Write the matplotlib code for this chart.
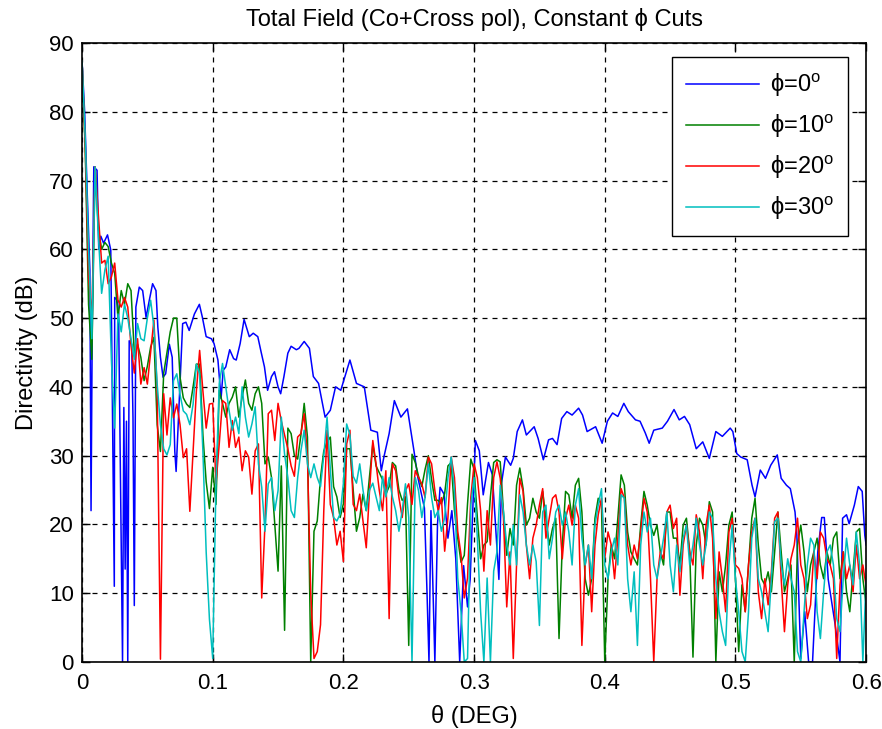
import numpy as np
import matplotlib.pyplot as plt

plt.rcParams['font.family'] = ['Liberation Sans', 'DejaVu Sans']
plt.rcParams['mathtext.fontset'] = 'custom'
plt.rcParams['mathtext.rm'] = 'Liberation Sans'

# phi = 0 deg cut (irregular theta sampling)
theta_b = [0.000, 0.002, 0.004, 0.006, 0.0069, 0.0078, 0.009, 0.0115, 0.0128, 0.0144,
           0.0165, 0.0195, 0.022, 0.0247, 0.025, 0.027, 0.028, 0.031, 0.032, 0.033,
           0.034, 0.035, 0.0361, 0.038, 0.039, 0.040, 0.0412, 0.0438, 0.0464, 0.049,
           0.0515, 0.054, 0.0566, 0.058, 0.060, 0.062, 0.064, 0.0668, 0.069, 0.071,
           0.072, 0.0745, 0.077, 0.0795, 0.082, 0.086, 0.0898, 0.092, 0.095, 0.099,
           0.101, 0.104, 0.1064, 0.108, 0.110, 0.113, 0.116, 0.118, 0.121, 0.124,
           0.128, 0.131, 0.1345, 0.137, 0.1396, 0.142, 0.145, 0.1473, 0.150, 0.152,
           0.1545, 0.1575, 0.160, 0.164, 0.166, 0.170, 0.174, 0.177, 0.181, 0.186,
           0.190, 0.194, 0.198, 0.205, 0.210, 0.216, 0.221, 0.226, 0.229, 0.231,
           0.235, 0.239, 0.244, 0.249, 0.254, 0.257, 0.262, 0.264, 0.2655, 0.267,
           0.270, 0.272, 0.274, 0.277, 0.280, 0.283, 0.286, 0.289, 0.292, 0.295,
           0.297, 0.301, 0.304, 0.307, 0.311, 0.314, 0.319, 0.321, 0.324, 0.328,
           0.330, 0.333, 0.337, 0.340, 0.346, 0.349, 0.353, 0.357, 0.360, 0.3635,
           0.367, 0.371, 0.375, 0.380, 0.383, 0.3865, 0.393, 0.398, 0.402, 0.406,
           0.410, 0.4146, 0.418, 0.4235, 0.427, 0.431, 0.434, 0.4375, 0.444, 0.448,
           0.453, 0.457, 0.461, 0.465, 0.470, 0.475, 0.480, 0.485, 0.490, 0.496,
           0.498, 0.501, 0.504, 0.509, 0.5127, 0.515, 0.519, 0.523, 0.527, 0.532,
           0.535, 0.539, 0.542, 0.5456, 0.547, 0.550, 0.553, 0.556, 0.559, 0.563,
           0.566, 0.568, 0.571, 0.576, 0.580, 0.582, 0.585, 0.587, 0.591, 0.594,
           0.597, 0.599, 0.600]
d_phi0 = [87.4, 80, 68, 57, 22, 48, 72, 71.5, 60, 61.9,
          60.9, 62.1, 59.9, 11, 53, 52.6, 50.6, 0, 37, 13.5,
          35, 0, 46.7, 46.2, 35.5, 8.2, 51.6, 54.5, 54, 50.1,
          52.6, 55, 54, 48.7, 44.3, 41.4, 41.9, 46.2, 44.3, 30.6,
          27.7, 38.4, 49.2, 49.4, 48.2, 50.6, 52, 50.2, 47.3, 47,
          46.3, 43.9, 38.3, 42.4, 42.9, 45.4, 44.1, 43.9, 46.3, 49.8,
          47.3, 47.8, 47.3, 45.1, 42.9, 39.5, 41.5, 42.2, 40, 39,
          41.5, 44.9, 45.9, 45.4, 45.6, 46.6, 45.6, 41.5, 40.5, 35.6,
          36.6, 40, 39.5, 43.9, 40.5, 40, 33.7, 33.4, 27.8, 29.8,
          33.2, 38, 35.6, 36.8, 30.7, 26.8, 22.4, 10, 0, 22,
          0, 20, 25.4, 24.4, 18, 22, 15, 0, 14, 8,
          12, 32.2, 30.7, 24.3, 29, 27.2, 12, 26, 29.8, 28.6,
          29.6, 33.5, 35.2, 33, 34.2, 32.5, 29.4, 32.3, 32.5, 31.6,
          35.4, 36.4, 35.9, 36.9, 35.9, 33.5, 34.2, 31.8, 35, 36.2,
          35.7, 37.6, 36.4, 35.2, 35, 33.3, 31.8, 33.7, 34, 35,
          36.7, 35.2, 35.7, 34.5, 31, 32, 29.6, 33.5, 32.8, 34,
          33.5, 30.3, 29.8, 29.4, 25.7, 24, 27.9, 26.7, 28.6, 30.1,
          26.7, 25.7, 25.2, 21.8, 18.4, 0.5, 7.3, 0, 0, 16,
          21, 21, 12, 5.8, 0, 20.9, 21.4, 20.1, 22.8, 25.5,
          24.8, 18.4, 17]

# phi = 10, 20, 30 deg cuts on a common theta step of 0.0025 deg
theta = np.arange(241) * 0.0025
d_phi10 = [87.4, 74, 52, 44, 72, 63, 60, 61, 60.4, 58,
           56.5, 50, 54, 52, 55, 54, 45, 46.2, 44.3, 40.9,
           43, 45.8, 47.2, 34.5, 30.6, 42, 45, 48, 50, 50,
           41.4, 38.4, 37.5, 37, 40, 43.3, 43.3, 33, 26.2, 22.3,
           28.3, 22.9, 39.5, 37.6, 35.6, 37.6, 38.5, 40, 35.6, 38.5,
           41, 37.6, 36.6, 39, 40, 37.6, 28.8, 29.8,
           26.8, 20, 13.2, 28.5, 4.6, 34, 33.2, 30, 29.5, 33,
           37.6, 32.7, 0, 19, 20.5, 26.8, 30.7, 32, 32.7, 25.5,
           24, 21, 23, 31, 31, 25, 19, 21, 24.4, 22,
           27, 31.7, 28.5, 27.5, 26.5, 24.4, 25.5, 29, 28.5, 25,
           23.5, 24, 2.4, 30.2, 29, 27, 25.5, 28, 30, 26.5,
           23.5, 23.5, 23, 24.5, 28.5, 29, 22, 18, 14.5, 15.5,
           23, 29.5, 28, 21, 15, 17, 17.5, 24, 29,
           29.4, 29.1, 21.8, 15.5, 19.4, 17, 25.7, 28.2, 25.2, 19.9,
           20.9, 23.8, 21.8, 20.9, 24.8, 20.9, 17, 19.4, 20.9, 3.4,
           17, 24.8, 24.3, 20.9, 25.7, 26.7, 21.8, 12.1, 9.7, 12.1,
           20.9, 23.8, 22.8, 0, 12.1, 17, 15, 20.9, 27.2, 25.7,
           18.9, 16, 15, 14.1, 19.9, 24.8, 22.8, 19.9, 18.4, 19.9,
           16, 14.1, 21.8, 21.8, 18,
           18, 14.1, 19.9, 20.9, 16, 0.7, 17, 20.9, 19.9, 17,
           23.3, 21.8, 0, 13.1, 10.2, 14.1, 19.9, 21.8, 12.1, 1.5,
           11.2, 7.3, 14.1, 20.9, 23.8, 17, 12.1, 11.2, 13.1, 10.2,
           16, 21.8, 16, 10.2, 12.1, 14.1, 0, 17, 19.9, 16,
           10.2, 14.1, 16, 18, 14.1, 12.1, 16, 14.1, 18, 18.9,
           12.1, 16, 10.2, 7.3, 13.1, 18.9, 19.4, 12.1, 8.3]
d_phi20 = [87.4, 75, 56, 50, 72, 65, 58, 58.4, 55, 56,
           58, 52.6, 51.6, 53, 51.6, 46, 42, 47, 40.4, 42.8,
           40.4, 45, 49.7, 39.4, 0.4, 39, 33, 38.4, 35.5, 37.5,
           34.5, 29.7, 31, 21.9, 30.6, 39.4, 45.3, 39.4, 34, 37.5,
           37.6, 25.9, 31.7, 38, 37.6, 31.2, 35.1, 31.2, 32.7, 27.8,
           30.7, 29.8, 24.4, 30.7, 31.7, 9.3, 20, 36.1,
           36.6, 32.2, 37.6, 35, 33, 31, 28.5, 27, 32.7, 33.2,
           36.1, 29.8, 10, 0.5, 1.5, 5.4, 22, 33.7, 22.9, 21,
           17, 19, 14.6, 31.7, 33.7, 22.9, 22, 24.4, 20.5, 16.6,
           24.9, 32.2, 28.8, 24.9, 22, 27.8, 6.3, 28.8, 27.8, 23.9,
           21, 24.9, 25.9, 22.9, 27.8, 26.8, 25.9, 23.9, 29.8, 28.8,
           24.9, 22, 23.9, 16.1, 21, 29.8, 26.8, 19, 15.6, 9.3,
           12.2, 23.9, 28.8, 26.8, 22, 13.2, 22, 17, 26.8,
           29.1, 26.7, 20.9, 8, 16, 0.5, 14.1, 26.7, 24.8, 17,
           12.1, 18, 19.9, 22.8, 25.2, 18, 20.9, 23.8, 24.3, 21.8,
           15, 20.9, 22.8, 19.9, 22.8, 20.9, 2.4, 14.1, 17, 7.3,
           17, 21.4, 23.8, 15, 18.9, 17, 12.1, 18, 25.2, 23.8,
           17, 14.1, 17, 15, 18.9, 23.8, 21.8, 12.1, 0, 12.1,
           16, 15, 21.8, 22.8, 19.4,
           20.9, 9.7, 17, 19.9, 16, 14.1, 21.4, 18.9, 12.1, 19.9,
           22.8, 18, 6.3, 16, 12.1, 7.3, 18.9, 20.9, 14.1, 13.6,
           12.1, 7.3, 14.1, 18.9, 20.9, 10.2, 6.3, 12.1, 8.3, 13.1,
           20.9, 21.8, 12.1, 4.4, 11.2, 15, 17, 20.9, 14.1, 12.1,
           6.3, 8.3, 16, 12.1, 18.9, 18, 15, 14.1, 12.1, 0.5,
           11.2, 16, 12.1, 14.1, 10.2, 17, 12.1, 14.1, 11]
d_phi30 = [87.4, 76, 60, 47, 72, 62, 53.6, 57, 59, 43.8,
           34, 50.6, 48, 52, 50, 47, 44, 49.2, 47, 46.7,
           50, 52.6, 48.7, 40.4, 34.5, 31, 30.1, 31.6, 40.9, 41.9,
           38.9, 36.5, 36, 34.5, 37.5, 43.3, 41.9, 30.6, 16, 6.2,
           0.5, 25.9, 40.5, 43.4, 40, 36.6, 33.7, 35.6, 33.2, 40,
           35.6, 32.7, 34.6, 37.1, 28.8, 25.4, 19, 25.9,
           26.8, 22, 24.9, 35.6, 30.2, 26.8, 22, 21, 26.8, 30.7,
           33.7, 28.8, 26.8, 28.8, 26.8, 25.5, 30, 35.6, 28, 21,
           20.5, 21.5, 26, 34.6, 33, 27, 26, 28.8, 25, 22,
           25, 26, 24, 22, 27, 24, 26.8, 24, 22, 19,
           22, 25.9, 21, 0, 26.8, 24.9, 21, 23.9, 28.8, 23.9,
           21, 22, 19, 21, 26.8, 29.8, 24.9, 12.2, 7.3, 0,
           0.5, 22.9, 26.8, 18, 7.3, 0, 12.2, 0, 13.2,
           16, 25.7, 21.8, 17, 14.1, 19.9, 14.1, 24.3, 21.8, 17,
           14.1, 17, 14.6, 5.3, 21.8, 22.8, 15, 18, 21.8, 22.8,
           19.9, 21.8, 18.9, 14.1, 22.8, 25.2, 18, 14.1, 17, 12.1,
           19.9, 22.8, 25.2, 14.1, 12.1, 16, 18, 14.1, 24.3, 23.8,
           12.1, 7.3, 13.1, 2.4, 17, 21.8, 18.9, 20.9, 14.1, 12.1,
           15, 18, 21.8, 14.1, 10.2,
           17, 13.1, 18, 19.9, 14.1, 17, 20.9, 17, 14.1, 17,
           21.8, 20.9, 12.1, 7.3, 4.4, 2.4, 14.1, 19.9, 12.1, 7.3,
           1.5, 0, 7.3, 18, 20.9, 12.1, 10.2, 7.3, 4.4, 12.1,
           20.4, 20.9, 14.1, 11.2, 15, 12.1, 10.2, 1.5, 0, 7.3,
           14.1, 18, 17, 7.3, 3.4, 10.2, 16, 17, 14.1, 6.3,
           4.4, 12.1, 18, 14.1, 11.2, 18.9, 14.1, 0, 12.1]

labels = ['\u03d5=0$^{\\rm o}$', '\u03d5=10$^{\\rm o}$',
          '\u03d5=20$^{\\rm o}$', '\u03d5=30$^{\\rm o}$']
colors = ['#0000ff', '#008000', '#ff0000', '#00bfbf']

fig = plt.figure(figsize=(8.82, 7.29), dpi=100)
ax = fig.add_axes([0.093, 0.092, 0.889, 0.849])

ax.plot(theta_b, d_phi0, color=colors[0], lw=1.1, label=labels[0])
ax.plot(theta, d_phi10, color=colors[1], lw=1.1, label=labels[1])
ax.plot(theta, d_phi20, color=colors[2], lw=1.1, label=labels[2])
ax.plot(theta, d_phi30, color=colors[3], lw=1.1, label=labels[3])

ax.set_xlim(0, 0.6)
ax.set_ylim(0, 90)
ax.set_xticks(np.arange(0, 0.61, 0.1))
ax.set_xticklabels(['0', '0.1', '0.2', '0.3', '0.4', '0.5', '0.6'])
ax.set_yticks(np.arange(0, 91, 10))
ax.tick_params(direction='in', top=True, right=True, labelsize=16, length=6, width=1)
ax.tick_params(axis='x', pad=8)
ax.tick_params(axis='y', pad=6)
ax.grid(True, color='k', linestyle=(0, (4, 4)), linewidth=0.9)
for s in ax.spines.values():
    s.set_linewidth(1.2)

ax.set_title('Total Field (Co+Cross pol), Constant \u03d5 Cuts', fontsize=17, pad=12)
ax.set_xlabel('\u03b8 (DEG)', fontsize=17, labelpad=8)
ax.set_ylabel('Directivity (dB)', fontsize=17, labelpad=8)

leg = ax.legend(loc='upper right', fontsize=17, handlelength=3.1, handletextpad=0.45,
                labelspacing=0.55, borderpad=0.6, borderaxespad=0, fancybox=False,
                framealpha=1, edgecolor='k', bbox_to_anchor=(0.977, 0.977))
leg.get_frame().set_linewidth(1.0)

fig.savefig('out.png', dpi=100)
